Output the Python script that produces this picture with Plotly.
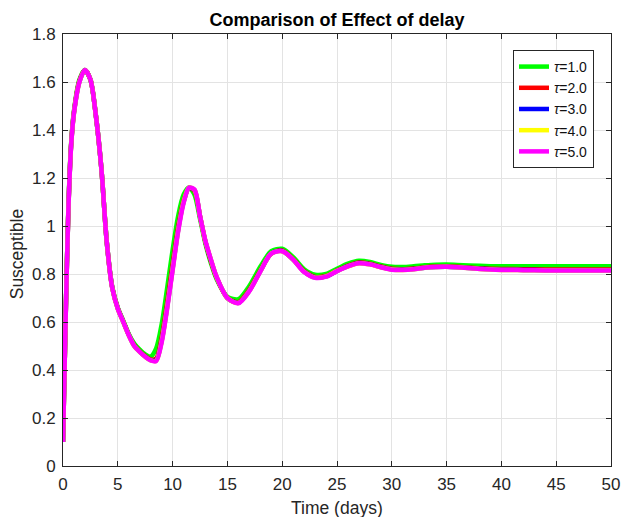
import plotly.graph_objects as go

t = [0, 0.25, 0.5, 0.75, 1, 1.5, 2, 2.5, 3, 3.5, 4, 4.5, 5, 5.5, 6, 6.5, 7, 7.5, 8, 8.5,
     9, 9.5, 10, 10.5, 11, 11.5, 12, 12.5, 13, 13.5, 14, 15, 16, 17, 18, 19, 20, 21, 22, 23,
     24, 25, 26, 27, 28, 29, 30, 31, 32, 33, 34, 35, 36, 38, 40, 42, 44, 46, 48, 50]

s_tau1 = [0.10, 0.64, 1.09, 1.35, 1.48, 1.61, 1.65, 1.61, 1.46, 1.24, 0.93, 0.745, 0.66, 0.605, 0.55, 0.51, 0.485, 0.465, 0.456, 0.49,
          0.59, 0.74, 0.90, 1.04, 1.13, 1.16, 1.13, 1.03, 0.925, 0.845, 0.78, 0.705, 0.695, 0.75, 0.83, 0.895, 0.905, 0.87, 0.82, 0.797,
          0.80, 0.822, 0.843, 0.855, 0.85, 0.838, 0.830, 0.829, 0.832, 0.836, 0.839, 0.840, 0.838, 0.834, 0.832, 0.832, 0.832, 0.832, 0.832, 0.832]

s_tau2 = [0.10, 0.635, 1.085, 1.345, 1.475, 1.605, 1.65, 1.61, 1.46, 1.24, 0.93, 0.742, 0.657, 0.602, 0.547, 0.503, 0.478, 0.458, 0.444, 0.448,
          0.535, 0.68, 0.84, 0.995, 1.105, 1.158, 1.145, 1.042, 0.932, 0.853, 0.786, 0.700, 0.683, 0.735, 0.815, 0.885, 0.898, 0.862, 0.812, 0.788,
          0.792, 0.814, 0.835, 0.848, 0.843, 0.831, 0.822, 0.820, 0.823, 0.828, 0.831, 0.832, 0.830, 0.824, 0.821, 0.820, 0.819, 0.819, 0.819, 0.819]

s_tau3 = [0.10, 0.632, 1.082, 1.342, 1.472, 1.602, 1.65, 1.61, 1.46, 1.24, 0.93, 0.741, 0.656, 0.601, 0.546, 0.501, 0.476, 0.456, 0.441, 0.441,
          0.522, 0.662, 0.822, 0.982, 1.10, 1.159, 1.149, 1.04, 0.934, 0.857, 0.788, 0.700, 0.680, 0.731, 0.812, 0.887, 0.896, 0.860, 0.810, 0.786,
          0.790, 0.813, 0.833, 0.846, 0.841, 0.829, 0.820, 0.818, 0.821, 0.826, 0.829, 0.830, 0.828, 0.822, 0.818, 0.817, 0.816, 0.816, 0.816, 0.816]

s_tau4 = [0.10, 0.631, 1.081, 1.341, 1.471, 1.601, 1.65, 1.61, 1.46, 1.24, 0.93, 0.740, 0.655, 0.600, 0.545, 0.500, 0.475, 0.455, 0.440, 0.439,
          0.520, 0.660, 0.820, 0.980, 1.10, 1.16, 1.15, 1.04, 0.935, 0.859, 0.789, 0.700, 0.679, 0.730, 0.811, 0.886, 0.895, 0.860, 0.809, 0.785,
          0.790, 0.813, 0.832, 0.845, 0.840, 0.828, 0.819, 0.817, 0.820, 0.826, 0.829, 0.830, 0.828, 0.821, 0.817, 0.816, 0.815, 0.815, 0.815, 0.815]

s_tau5 = [0.10, 0.63, 1.08, 1.34, 1.47, 1.60, 1.65, 1.61, 1.46, 1.24, 0.93, 0.74, 0.655, 0.60, 0.545, 0.50, 0.475, 0.455, 0.44, 0.437,
          0.515, 0.655, 0.815, 0.975, 1.095, 1.16, 1.152, 1.042, 0.937, 0.86, 0.79, 0.70, 0.678, 0.728, 0.81, 0.885, 0.895, 0.86, 0.808, 0.784,
          0.789, 0.812, 0.832, 0.845, 0.840, 0.828, 0.818, 0.817, 0.820, 0.826, 0.829, 0.830, 0.828, 0.821, 0.817, 0.816, 0.815, 0.815, 0.815, 0.815]

labels = ["<i>τ</i>=1.0", "<i>τ</i>=2.0", "<i>τ</i>=3.0", "<i>τ</i>=4.0", "<i>τ</i>=5.0"]
series = [s_tau1, s_tau2, s_tau3, s_tau4, s_tau5]
colors = ["#00ff00", "#ff0000", "#0000ff", "#ffff00", "#ff00ff"]

FONT = "Liberation Sans, Arial, sans-serif"

fig = go.Figure()
for lab, s, c in zip(labels, series, colors):
    fig.add_trace(go.Scatter(x=t, y=s, mode="lines", name=lab,
                             line=dict(color=c, width=4.5, shape="spline", smoothing=0.8)))

axis_common = dict(showline=True, linecolor="#262626", linewidth=1, mirror="ticks",
                   ticks="inside", ticklen=5, tickcolor="#262626",
                   showgrid=True, gridcolor="#e3e3e3", gridwidth=1, zeroline=False,
                   automargin=False, ticklabelstandoff=3,
                   tickfont=dict(family=FONT, size=17, color="#262626"))

fig.update_layout(
    width=622, height=517,
    margin=dict(l=63, r=11, t=34, b=51),
    paper_bgcolor="white", plot_bgcolor="white",
    title=dict(text="<b>Comparison of Effect of delay</b>", x=0.5, xref="paper",
               y=0.961, yref="container", yanchor="middle",
               font=dict(family=FONT, size=18, color="black")),
    xaxis=dict(range=[0, 50], dtick=5, tick0=0, **axis_common),
    yaxis=dict(range=[0, 1.8], dtick=0.2, tick0=0, tickformat="~g", **axis_common),
    legend=dict(x=0.969, y=0.963, xanchor="right", yanchor="top",
                bgcolor="white", bordercolor="#262626", borderwidth=1,
                font=dict(family=FONT, size=14, color="#111111"),
                tracegroupgap=0, itemwidth=30),
    showlegend=True,
    annotations=[
        dict(text="Time (days)", xref="paper", yref="paper", x=0.5, y=-0.097,
             xanchor="center", yanchor="middle", showarrow=False,
             font=dict(family=FONT, size=17.5, color="#262626")),
        dict(text="Susceptible", xref="paper", yref="paper", x=-0.084, y=0.49,
             xanchor="center", yanchor="middle", showarrow=False, textangle=-90,
             font=dict(family=FONT, size=17.5, color="#262626")),
    ],
)

fig.write_html("out.html", config={"displayModeBar": False},
               post_script="document.body.style.margin='0';document.body.style.overflow='hidden';")
